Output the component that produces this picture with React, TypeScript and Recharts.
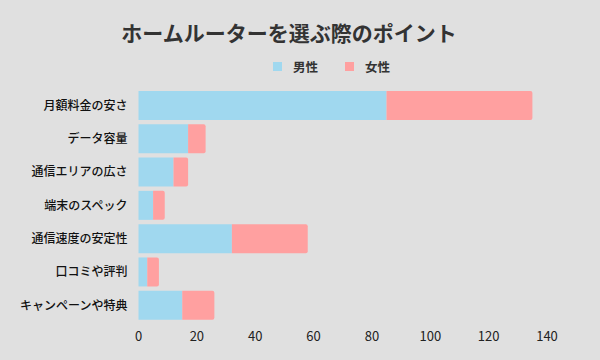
import { BarChart, Bar, XAxis, YAxis } from 'recharts'

const categories = [
  '月額料金の安さ',
  'データ容量',
  '通信エリアの広さ',
  '端末のスペック',
  '通信速度の安定性',
  '口コミや評判',
  'キャンペーンや特典',
]
const maleValues = [85, 17, 12, 5, 32, 3, 15]
const femaleValues = [50, 6, 5, 4, 26, 4, 11]
const xTicks = [0, 20, 40, 60, 80, 100, 120, 140]

const seriesNames = { male: '男性', female: '女性' }
const colors = { male: '#a0d8ef', female: '#ffa0a0', text: '#333333', bg: '#e0e0e0' }
const font = '"Noto Sans CJK JP", "Noto Sans", sans-serif'

const data = categories.map((name, i) => ({
  name,
  male: maleValues[i],
  female: femaleValues[i],
}))

function LegendContent() {
  const items = [
    { label: seriesNames.male, color: colors.male },
    { label: seriesNames.female, color: colors.female },
  ]
  return (
    <div style={{ position: 'absolute', top: 57, left: 273, display: 'flex' }}>
      {items.map((it) => (
        <div key={it.label} style={{ display: 'flex', alignItems: 'center', marginRight: 27 }}>
          <span style={{ width: 9, height: 9, background: it.color, display: 'inline-block', marginRight: 11 }} />
          <span style={{ fontSize: 12.5, fontWeight: 700, color: colors.text, fontFamily: font }}>{it.label}</span>
        </div>
      ))}
    </div>
  )
}

export default function App() {
  return (
    <div style={{ position: 'absolute', left: 0, top: 0, width: 600, height: 360, background: colors.bg }}>
      <div
        style={{
          position: 'absolute',
          top: 17,
          left: 0,
          width: 578,
          textAlign: 'center',
          fontFamily: font,
          fontWeight: 700,
          fontSize: 21,
          color: colors.text,
        }}
      >
        ホームルーターを選ぶ際のポイント
      </div>
      <LegendContent />
      <BarChart
        width={600}
        height={360}
        data={data}
        layout="vertical"
        margin={{ top: 89, right: 53, bottom: 8, left: 0 }}
      >
        <XAxis
          type="number"
          domain={[0, 140]}
          ticks={xTicks}
          axisLine={false}
          tickLine={false}
          height={30}
          tickMargin={4}
          tick={{ fill: '#222', fontSize: 13, fontFamily: font }}
        />
        <YAxis
          type="category"
          dataKey="name"
          width={138.5}
          axisLine={false}
          tickLine={false}
          tickMargin={5}
          tick={{ fill: '#111', fontSize: 12, fontWeight: 500, fontFamily: font }}
        />
        <Bar dataKey="male" name={seriesNames.male} stackId="a" fill={colors.male} barSize={29} isAnimationActive={false} />
        <Bar
          dataKey="female"
          name={seriesNames.female}
          stackId="a"
          fill={colors.female}
          barSize={29}
          radius={[0, 2, 2, 0]}
          isAnimationActive={false}
        />
      </BarChart>
    </div>
  )
}
